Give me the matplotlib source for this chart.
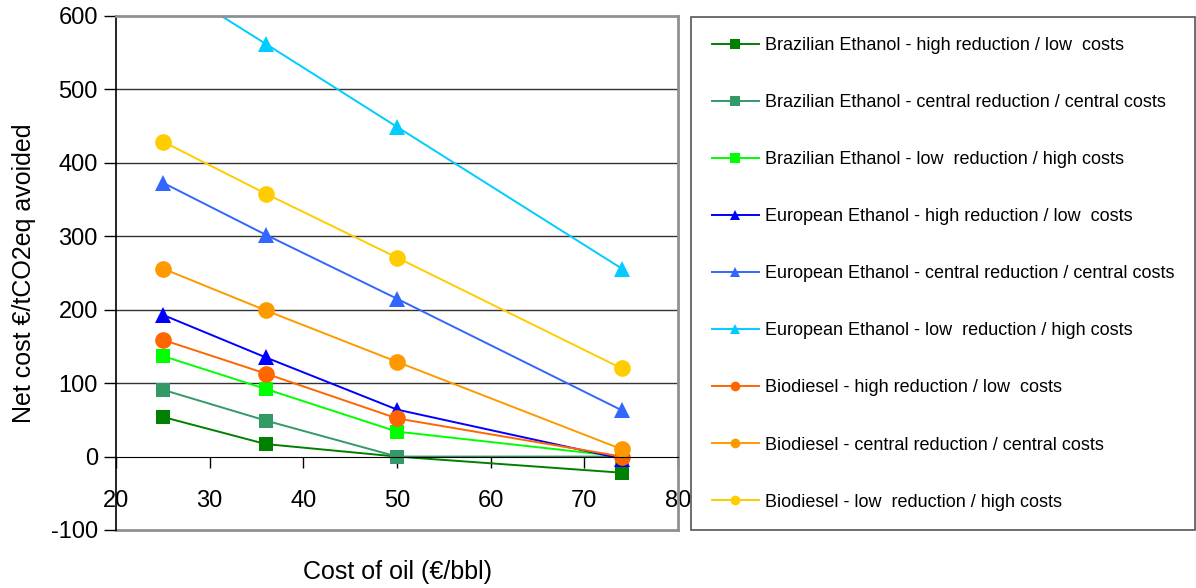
import matplotlib
matplotlib.use('Agg')
import matplotlib.pyplot as plt
from matplotlib import patches
from matplotlib.lines import Line2D

plt.rcParams['font.family'] = ['Liberation Sans', 'DejaVu Sans']
plt.rcParams['axes.unicode_minus'] = False

# oil price scenarios (euro per barrel)
oil_cost = [25, 36, 50, 74]

br_high_low = [54, 17, 0, -22]
br_central = [91, 49, 0, 0]
br_low_high = [137, 92, 34, 0]
eu_high_low = [193, 135, 64, -3]
eu_central = [373, 302, 215, 63]
eu_low_high = [650, 562, 449, 256]
bd_high_low = [159, 113, 52, 0]
bd_central = [256, 199, 129, 10]
bd_low_high = [429, 358, 271, 120]

labels = [
    'Brazilian Ethanol - high reduction / low  costs',
    'Brazilian Ethanol - central reduction / central costs',
    'Brazilian Ethanol - low  reduction / high costs',
    'European Ethanol - high reduction / low  costs',
    'European Ethanol - central reduction / central costs',
    'European Ethanol - low  reduction / high costs',
    'Biodiesel - high reduction / low  costs',
    'Biodiesel - central reduction / central costs',
    'Biodiesel - low  reduction / high costs',
]
series = [br_high_low, br_central, br_low_high,
          eu_high_low, eu_central, eu_low_high,
          bd_high_low, bd_central, bd_low_high]
colors = ['#008000', '#339966', '#00ff00',
          '#0000ff', '#3366ff', '#00ccff',
          '#ff6600', '#ff9900', '#ffcc00']
markers = ['s', 's', 's', '^', '^', '^', 'o', 'o', 'o']
msizes = [10, 10, 10, 11, 11, 11, 12, 12, 12]

W, H = 1196, 588
fig = plt.figure(figsize=(W / 100, H / 100), dpi=100)
ax = fig.add_axes([116 / W, 1 - 530 / H, (678 - 116) / W, (530 - 16) / H])

for y, c, m, s in zip(series, colors, markers, msizes):
    ax.plot(oil_cost, y, color=c, marker=m, markersize=s, lw=1.4,
            markeredgewidth=0)

ax.set_xlim(20, 80)
ax.set_ylim(-100, 600)
ax.set_xticks(range(20, 81, 10))
ax.set_yticks(range(-100, 601, 100))

for gy in range(100, 600, 100):
    ax.axhline(gy, color='#333333', lw=1.0, zorder=0.5)
ax.axhline(-100, color='#909090', lw=2.0, clip_on=False, zorder=0.5)

ax.spines['bottom'].set_position(('data', 0))
ax.spines['bottom'].set_color('black')
ax.spines['left'].set_color('black')
ax.spines['left'].set_linewidth(1.2)
for side in ['top', 'right']:
    ax.spines[side].set_color('#909090')
    ax.spines[side].set_linewidth(2.0)

ax.tick_params(axis='x', direction='out', length=8, width=1, pad=16,
               labelsize=17)
ax.tick_params(axis='y', direction='out', length=9, width=1, pad=4,
               labelsize=17)

ax.set_xlabel('Cost of oil (€/bbl)', fontsize=18)
ax.xaxis.set_label_coords(0.5, -0.058)
ax.set_ylabel('Net cost €/tCO2eq avoided', fontsize=18)
ax.yaxis.set_label_coords(-0.142, 0.5)

# legend frame
fig.patches.append(patches.Rectangle((691 / W, 1 - 530 / H), (1195 - 691) / W,
                                     (530 - 17) / H, transform=fig.transFigure,
                                     fill=False, edgecolor='#555555', lw=1.2))

handles = [Line2D([], [], color=c, marker=m, markersize=7, lw=1.4,
                  markeredgewidth=0) for c, m in zip(colors, markers)]
fig.legend(handles, labels, loc='upper left',
           bbox_to_anchor=(712 / W, 1 - 37 / H), frameon=False,
           fontsize=13, handlelength=2.6, handletextpad=0.35,
           labelspacing=2.22, borderaxespad=0, borderpad=0)

fig.savefig('out.png', dpi=100)
